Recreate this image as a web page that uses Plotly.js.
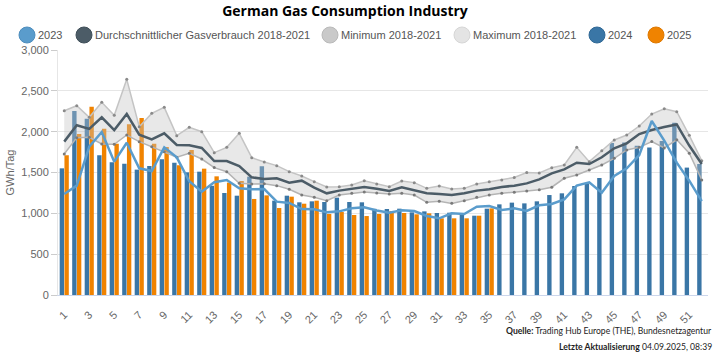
<!DOCTYPE html>
<html>
<head>
<meta charset="utf-8">
<script src="https://cdn.plot.ly/plotly-3.0.1.min.js"></script>
<style>html,body{margin:0;padding:0;background:#fff;}#chart{width:717px;height:357px;}</style>
</head>
<body>
<div id="chart"></div>
<script>
const weeks = Array.from({length: 52}, (_, i) => i + 1);
const weeks2025 = weeks.slice(0, 35);

const values2023 = [1237,1339,1816,1996,1633,1865,1551,1518,1808,1686,1392,1265,1380,1408,1306,1294,1298,1143,1127,1053,1049,1012,1024,1061,1073,1035,1008,1037,1029,967,939,1000,992,1082,1090,1041,1061,1029,1098,1114,1171,1339,1380,1253,1457,1551,1714,2131,1890,1620,1400,1150];
const valuesAvg = [1878,2078,2033,2176,2020,2216,1963,1906,1980,1837,1833,1800,1640,1641,1580,1441,1420,1429,1376,1400,1314,1245,1278,1298,1322,1302,1273,1318,1286,1245,1237,1224,1245,1278,1294,1322,1339,1367,1416,1490,1539,1620,1604,1686,1796,1857,1971,2020,2056,2088,1830,1605];
const valuesMin = [1727,1927,1931,1849,1845,1959,1878,1816,1755,1686,1735,1665,1560,1510,1367,1359,1363,1339,1294,1224,1196,1155,1224,1245,1261,1250,1237,1245,1224,1135,1147,1122,1155,1196,1224,1245,1257,1273,1290,1320,1429,1469,1531,1592,1673,1776,1808,1880,1800,1900,1736,1409];
const valuesMax = [2257,2318,2176,2359,2200,2641,2061,2224,2298,1951,2053,2000,1743,1808,1980,1682,1629,1584,1510,1457,1388,1322,1327,1347,1400,1360,1327,1396,1376,1306,1335,1298,1306,1359,1388,1408,1440,1500,1495,1559,1592,1808,1633,1767,1898,1959,2069,2216,2280,2245,1955,1645];
const values2024 = [1551,2253,2159,1710,1624,1608,1535,1580,1661,1620,1502,1510,1337,1249,1216,1449,1576,1155,1216,1135,1147,1139,1192,1139,1135,1055,1053,1057,1012,1024,1004,1008,988,971,1057,1110,1131,1122,1147,1224,1245,1335,1367,1433,1860,1866,1829,1806,1886,2110,1560,1603];
const values2025 = [1710,1971,2306,2037,1853,2090,2167,1853,1812,1588,1776,1547,1453,1376,1396,1176,1220,1065,1204,1118,1155,992,1016,980,967,992,1029,1004,988,1000,939,939,939,971,1061];

const legendNames = ['2023','Durchschnittlicher Gasverbrauch 2018-2021','Minimum 2018-2021','Maximum 2018-2021','2024','2025'];
const legendColors = ['#5a9ccc','#4c5c67','#c9c9c9','#e4e4e4','#3a76a6','#f08300'];
const legendBorders = ['#4d8dbd','#3f4e58','#b9b9b9','#d6d6d6','#2f6895','#dd7800'];
const legendX = [27, 84, 330, 462, 597, 656];

const titleText = 'German Gas Consumption Industry';
const yTitle = 'GWh/Tag';
const sourceText = '<b>Quelle:</b> Trading Hub Europe (THE), Bundesnetzagentur';
const updateText = '<b>Letzte Aktualisierung</b> 04.09.2025, 08:39';

const W = 717, H = 357;
const M = {l: 58, r: 9, t: 50, b: 62};
const pw = W - M.l - M.r, ph = H - M.t - M.b;
const px2x = p => (p - M.l) / pw;
const py2y = p => (H - M.b - p) / ph;

const traces = [
  {type: 'bar', x: weeks, y: values2024, name: '2024', marker: {color: '#3a76a6'}, showlegend: false, hoverinfo: 'skip'},
  {type: 'bar', x: weeks2025, y: values2025, name: '2025', marker: {color: '#f08300'}, showlegend: false, hoverinfo: 'skip'},
  {type: 'scatter', mode: 'lines+markers', x: weeks, y: valuesMax, name: 'Maximum 2018-2021',
   line: {color: '#c4c4c4', width: 1.5}, marker: {size: 3, color: '#8a8a8a'}, showlegend: false, hoverinfo: 'skip'},
  {type: 'scatter', mode: 'lines+markers', x: weeks, y: valuesMin, name: 'Minimum 2018-2021', fill: 'tonexty',
   fillcolor: 'rgba(195,195,195,0.38)',
   line: {color: '#b4b4b4', width: 1.5}, marker: {size: 3, color: '#7a7a7a'}, showlegend: false, hoverinfo: 'skip'},
  {type: 'scatter', mode: 'lines', x: weeks, y: valuesAvg, name: 'Durchschnittlicher Gasverbrauch 2018-2021',
   line: {color: '#4c5c67', width: 2.5}, showlegend: false, hoverinfo: 'skip'},
  {type: 'scatter', mode: 'lines', x: weeks, y: values2023, name: '2023',
   line: {color: '#5a9ccc', width: 2.5}, showlegend: false, hoverinfo: 'skip'}
];

const shapes = [];
const annotations = [];
const legY = py2y(35);
legendNames.forEach((n, i) => {
  shapes.push({type: 'circle', xref: 'paper', yref: 'paper', xsizemode: 'pixel', ysizemode: 'pixel',
    xanchor: px2x(legendX[i]), yanchor: legY, x0: -8, x1: 8, y0: -8, y1: 8,
    fillcolor: legendColors[i], line: {color: legendBorders[i], width: 1}});
  annotations.push({xref: 'paper', yref: 'paper', x: px2x(legendX[i] + 9), y: legY, xanchor: 'left', yanchor: 'middle',
    text: n, showarrow: false, font: {family: 'Liberation Sans, Arial, sans-serif', size: 11, color: '#555'}});
});
const footFont = {family: 'Lato, sans-serif', size: 8.6, color: '#222'};
annotations.push({xref: 'paper', yref: 'paper', x: px2x(714), y: py2y(331), xanchor: 'right', yanchor: 'middle',
  text: sourceText, showarrow: false, font: footFont});
annotations.push({xref: 'paper', yref: 'paper', x: px2x(714), y: py2y(347), xanchor: 'right', yanchor: 'middle',
  text: updateText, showarrow: false, font: footFont});

const layout = {
  width: W, height: H,
  margin: M,
  paper_bgcolor: '#fff', plot_bgcolor: '#fff',
  title: {text: '<b>' + titleText + '</b>', x: 345 / W, xref: 'container', xanchor: 'center',
          y: 1 - 11 / H, yref: 'container', yanchor: 'middle',
          font: {family: 'Open Sans, sans-serif', size: 14, color: '#000'}},
  showlegend: false,
  barmode: 'group', bargap: 0.24, bargroupgap: 0.08,
  xaxis: {range: [0.5, 52.5], tickmode: 'linear', tick0: 1, dtick: 2, tickangle: -45,
          showgrid: false, zeroline: false, showline: true, linecolor: '#ccd6eb', linewidth: 1,
          ticks: '', ticklabelstandoff: 8,
          tickfont: {family: 'Liberation Sans, Arial, sans-serif', size: 11, color: '#666'}, fixedrange: true},
  yaxis: {range: [0, 3000], tickmode: 'linear', tick0: 0, dtick: 500, tickformat: ',',
          showgrid: true, gridcolor: '#e6e6e6', zeroline: false, showline: true, linecolor: '#e6e6e6',
          ticks: 'outside', ticklen: 6, tickcolor: '#cccccc',
          tickfont: {family: 'Liberation Sans, Arial, sans-serif', size: 11, color: '#666'},
          title: {text: yTitle, font: {family: 'Liberation Sans, Arial, sans-serif', size: 11, color: '#666'}, standoff: 4},
          fixedrange: true},
  shapes: shapes,
  annotations: annotations
};

Plotly.newPlot('chart', traces, layout, {displayModeBar: false, staticPlot: true});
</script>
</body>
</html>
